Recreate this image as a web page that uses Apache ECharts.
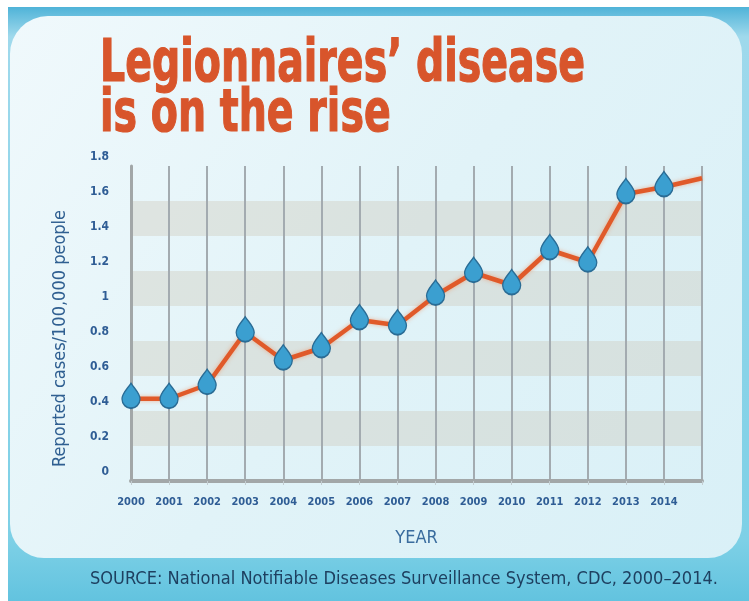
<!DOCTYPE html>
<html>
<head>
<meta charset="utf-8">
<script src="https://cdn.jsdelivr.net/npm/echarts@6/dist/echarts.min.js"></script>
<style>html,body{margin:0;padding:0;background:#fff;}#c{width:749px;height:601px;}</style>
</head>
<body>
<div id="c"></div>
<script>
var years = ['2000','2001','2002','2003','2004','2005','2006','2007','2008','2009','2010','2011','2012','2013','2014',''];
var rates = [0.47,0.47,0.55,0.85,0.69,0.76,0.92,0.89,1.06,1.19,1.12,1.32,1.25,1.64,1.68,1.73];
var yTicks = ['0','0.2','0.4','0.6','0.8','1','1.2','1.4','1.6','1.8'];
var titleLines = ['Legionnaires\u2019 disease','is on the rise'];
var sourceText = 'SOURCE: National Notifiable Diseases Surveillance System, CDC, 2000\u20132014.';

var COND = '"DejaVu Sans Condensed", "Liberation Sans Narrow", sans-serif';
function measure(font, txt){
  var c = document.createElement('canvas').getContext('2d');
  c.font = font; return c.measureText(txt).width;
}
var titleFont = 'bold 59px ' + COND;
var t1s = 485 / measure(titleFont, titleLines[0]);
var srcFont = '18px ' + COND;
var srcs = 628 / measure(srcFont, sourceText);

var drop = 'path://M0,0 C4,6 10,11 10,17 C10,22.5 5.5,27 0,27 C-5.5,27 -10,22.5 -10,17 C-10,11 -4,6 0,0 Z';
var seriesData = rates.map(function(v, i){
  return i === years.length - 1 ? {value: v, symbol: 'none'} : v;
});

var chart = echarts.init(document.getElementById('c'), null, {renderer:'canvas'});
chart.setOption({
  animation: false,
  backgroundColor: '#ffffff',
  graphic: [
    {type:'rect', z:-10, silent:true, shape:{x:8,y:7,width:741,height:594},
      style:{fill:{type:'linear',x:0,y:0,x2:0,y2:1,colorStops:[
        {offset:0,color:'#4fb3d8'},{offset:0.05,color:'#9fd9ec'},{offset:0.9,color:'#7dd0e6'},{offset:1,color:'#62c3df'}]}}},
    {type:'rect', z:-9, silent:true, shape:{x:10,y:16,width:732,height:542,r:[38,38,34,34]},
      style:{fill:{type:'linear',x:0,y:0,x2:1,y2:1,colorStops:[
        {offset:0,color:'#f0f9fc'},{offset:0.5,color:'#e1f3f8'},{offset:1,color:'#d9f0f7'}]}}},
    {type:'text', z:10, x:100, y:36, scaleX:t1s,
      style:{text:titleLines[0], font:titleFont, fill:'#d8552b', stroke:'#d8552b', lineWidth:1.2, verticalAlign:'top'}},
    {type:'text', z:10, x:100, y:86, scaleX:t1s,
      style:{text:titleLines[1], font:titleFont, fill:'#d8552b', stroke:'#d8552b', lineWidth:1.2, verticalAlign:'top'}},
    {type:'text', z:10, x:90, y:579, scaleX:srcs,
      style:{text:sourceText, font:srcFont, fill:'#1e4060', align:'left', verticalAlign:'middle'}}
  ],
  grid: {left:131, right:47, top:166, bottom:120, containLabel:false},
  xAxis: {
    type:'category', data: years, boundaryGap:false,
    name:'YEAR', nameLocation:'middle', nameGap:48,
    nameTextStyle:{fontFamily:COND, fontSize:18, color:'#3a6c9e'},
    axisLine:{show:true, lineStyle:{color:'#a2a7a8', width:4}},
    axisTick:{show:true, interval:0, length:4, lineStyle:{color:'#c3cdd1', width:1}},
    axisLabel:{interval:0, fontFamily:COND, fontWeight:'bold', fontSize:11, color:'#2f5d95', margin:16},
    splitLine:{show:true, interval:0, lineStyle:{color:'#a3abb0', width:2}}
  },
  yAxis: {
    type:'value', min:0, max:1.8, interval:0.2,
    name:'Reported cases/100,000 people', nameLocation:'middle', nameGap:62, nameRotate:90,
    nameTextStyle:{fontFamily:COND, fontSize:18, color:'#2f5f91', padding:[0,30,0,0]},
    axisLine:{show:true, lineStyle:{color:'#a2a7a8', width:3}},
    axisTick:{show:false},
    axisLabel:{fontFamily:COND, fontWeight:'bold', fontSize:12, color:'#2f5d95', margin:22,
      verticalAlign:'bottom', lineHeight:18,
      formatter:function(v){ var i = Math.round(v/0.2); return yTicks[i] !== undefined ? yTicks[i] : ''; }},
    splitLine:{show:false},
    splitArea:{show:true, areaStyle:{color:['rgba(0,0,0,0)','rgba(205,200,185,0.38)']}}
  },
  series: [{
    type:'line', data: seriesData, showAllSymbol:true,
    lineStyle:{color:'#e05a2a', width:4.5, shadowColor:'rgba(240,140,90,0.6)', shadowBlur:4},
    symbol: drop, symbolSize:[18,25], symbolOffset:[0,-3],
    itemStyle:{color:'#3b9fd0', borderColor:'#2a6c95', borderWidth:1.5},
    z:5
  }]
});
</script>
</body>
</html>
